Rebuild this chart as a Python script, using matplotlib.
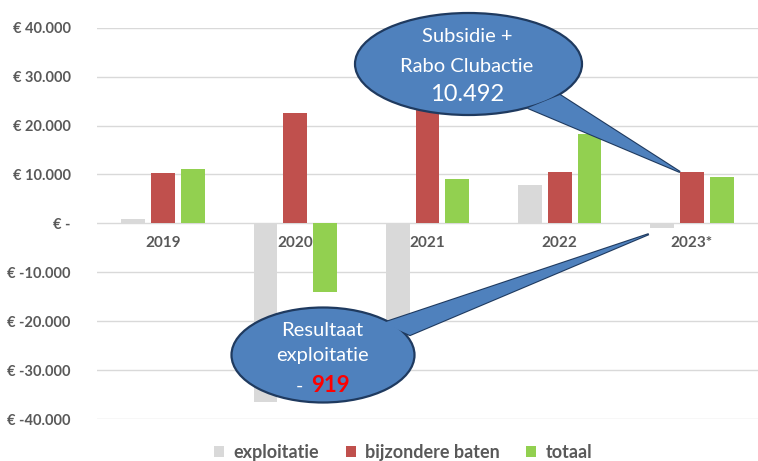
import matplotlib
matplotlib.use("Agg")
import matplotlib.pyplot as plt
from matplotlib.patches import Ellipse, Polygon, Patch
import numpy as np

plt.rcParams['font.family'] = ['Lato', 'DejaVu Sans']

categories = ["2019", "2020", "2021", "2022", "2023*"]
exploitatie = [900, -36500, -23000, 7800, -919]
bijzondere_baten = [10300, 22500, 32100, 10400, 10492]
totaal = [11200, -14000, 9100, 18200, 9573]
series_names = ["exploitatie", "bijzondere baten", "totaal"]
colors = ["#D9D9D9", "#C0504D", "#92D050"]
yticks = [-40000, -30000, -20000, -10000, 0, 10000, 20000, 30000, 40000]

W, H = 758, 461
fig = plt.figure(figsize=(W / 100, H / 100), dpi=100)
ax = fig.add_axes([97 / W, 1 - 419 / H, (758 - 97) / W, (419 - 27.7) / H])

x = np.arange(len(categories))
bw = 0.18
step = 0.226
for i, (vals, c) in enumerate(zip([exploitatie, bijzondere_baten, totaal], colors)):
    ax.bar(x + (i - 1) * step, vals, width=bw, color=c, zorder=3)

ax.set_xlim(-0.5, len(categories) - 0.5)
ax.set_ylim(-40000, 40000)
ax.set_yticks(yticks)


def fmt(v):
    if v == 0:
        return "€ -"
    s = f"{abs(v):,}".replace(",", ".")
    return ("€ -" if v < 0 else "€ ") + s


ax.set_yticklabels([fmt(v) for v in yticks])
ax.tick_params(axis='y', length=0, pad=19, labelsize=10.5, labelcolor="#595959")
for lab in ax.get_yticklabels():
    lab.set_fontweight('bold')
ax.set_xticks([])
ax.grid(axis='y', color="#D9D9D9", linewidth=1, zorder=0)
for s in ax.spines.values():
    s.set_visible(False)

for xi, c in zip(x, categories):
    ax.annotate(c, (xi, 0), xytext=(0, -20), textcoords='offset pixels',
                ha='center', va='center', fontsize=11, fontweight='bold',
                color="#595959", zorder=4)

# legend
handles = [Patch(facecolor=c, edgecolor='none') for c in colors]
leg = fig.legend(handles, series_names, loc='center', bbox_to_anchor=(403 / W, 1 - 452 / H),
                 ncol=3, frameon=False, handlelength=0.55, handleheight=0.55,
                 handletextpad=0.5, columnspacing=1.5,
                 prop={'size': 13, 'weight': 'bold'})
for t in leg.get_texts():
    t.set_color("#595959")


def px(p):
    return (p[0] / W, 1 - p[1] / H)


def data_to_px(xd, yd):
    disp = ax.transData.transform((xd, yd))
    return (disp[0] * W / fig.bbox.width, H - disp[1] * H / fig.bbox.height)


fill = "#4F81BD"
edge = "#1F3A5F"


def callout(center, w, h, base1, base2, tip):
    tr = fig.transFigure
    poly = [px(base1), px(tip), px(base2)]
    fig.patches.append(Polygon(poly, closed=True, facecolor=fill, edgecolor=edge,
                               linewidth=1.6, transform=tr, zorder=10))
    fig.patches.append(Ellipse(px(center), w / W, h / H, facecolor=fill, edgecolor=edge,
                               linewidth=1.6, transform=tr, zorder=11))
    fig.patches.append(Polygon(poly, closed=True, facecolor=fill, edgecolor='none',
                               linewidth=0, transform=tr, zorder=12))


# upper callout pointing at 2023 bijzondere baten
tip1 = data_to_px(4 - bw / 2, bijzondere_baten[4])
callout((468.5, 64), 227, 102, (528, 108), (560, 95), tip1)
# lower callout pointing at 2023 exploitatie
tip2 = data_to_px(4 - step - bw / 2 - 0.01, -2200)
callout((323, 355), 183, 95, (383, 323), (410, 335), tip2)

tkw = dict(ha='center', va='baseline', color='white', zorder=20)
fig.text(*px((467, 42)), "Subsidie +", fontsize=14.5, **tkw)
fig.text(*px((467, 72)), "Rabo Clubactie", fontsize=14.5, **tkw)
fig.text(*px((467, 101)), "10.492", fontsize=17, **tkw)

fig.text(*px((322, 336)), "Resultaat", fontsize=14.5, **tkw)
fig.text(*px((322, 361)), "exploitatie", fontsize=14.5, **tkw)
fig.text(*px((299, 392)), "-", fontsize=14, ha='center', va='baseline', color='white', zorder=20)
fig.text(*px((330, 392)), "919", fontsize=16, fontweight='bold', ha='center', va='baseline',
         color='#FF0000', zorder=20)

fig.savefig("out.png", dpi=100)
